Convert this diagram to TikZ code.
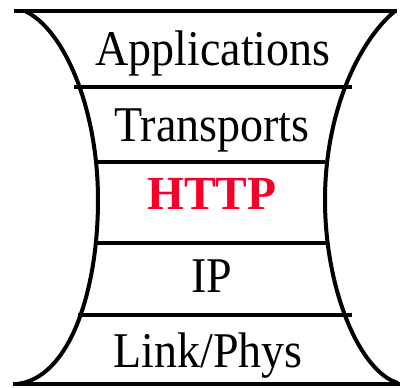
\documentclass[tikz,border=0pt]{standalone}
\usepackage{fontspec}
\setmainfont{Liberation Serif}
\definecolor{httpred}{RGB}{245,0,40}
\newcommand{\narrow}[1]{\scalebox{0.92}[1]{#1}}
\tikzset{
  rim/.style={line width=4pt, black},
  layer/.style={font=\fontsize{50}{54}\selectfont, anchor=base, inner sep=0pt},
  hot/.style={layer, font=\fontsize{47.5}{52}\selectfont\bfseries, text=httpred}
}
\begin{document}
\begin{tikzpicture}[x=1pt, y=-1pt]
\useasboundingbox (0,0) rectangle (400,388);
% curved sides of the hourglass
\coordinate (lt) at (25,11);
\coordinate (lm) at (98,200);
\coordinate (lb) at (17,384);
\coordinate (rt) at (395,11);
\coordinate (rm) at (325,200);
\coordinate (rb) at (398,383);
\draw[rim] (lt) .. controls (65,30) and (98,110) .. (lm)
               .. controls (98,290) and (70,378) .. (lb);
\draw[rim] (rt) .. controls (360,40) and (325,110) .. (rm)
               .. controls (325,290) and (360,372) .. (rb);
% layer separators
\coordinate (s0a) at (14,11);  \coordinate (s0b) at (397,11);
\coordinate (s1a) at (74,87);  \coordinate (s1b) at (352,87);
\coordinate (s2a) at (97,162); \coordinate (s2b) at (325,162);
\coordinate (s3a) at (97,243); \coordinate (s3b) at (328,243);
\coordinate (s4a) at (78,315); \coordinate (s4b) at (352,315);
\coordinate (s5a) at (13,384); \coordinate (s5b) at (400,384);
\foreach \i in {0,...,5} \draw[rim] (s\i a) -- (s\i b);
% layer names
\node[layer] (app)  at (213,65)    {\narrow{Applications}};
\node[layer] (tr)   at (212,141.5) {\narrow{Transports}};
\node[hot]   (http) at (212,209)   {HTTP};
\node[layer] (ip)   at (212,292)   {\narrow{IP}};
\node[layer] (link) at (208,367)   {\narrow{Link/Phys}};
\end{tikzpicture}
\end{document}
